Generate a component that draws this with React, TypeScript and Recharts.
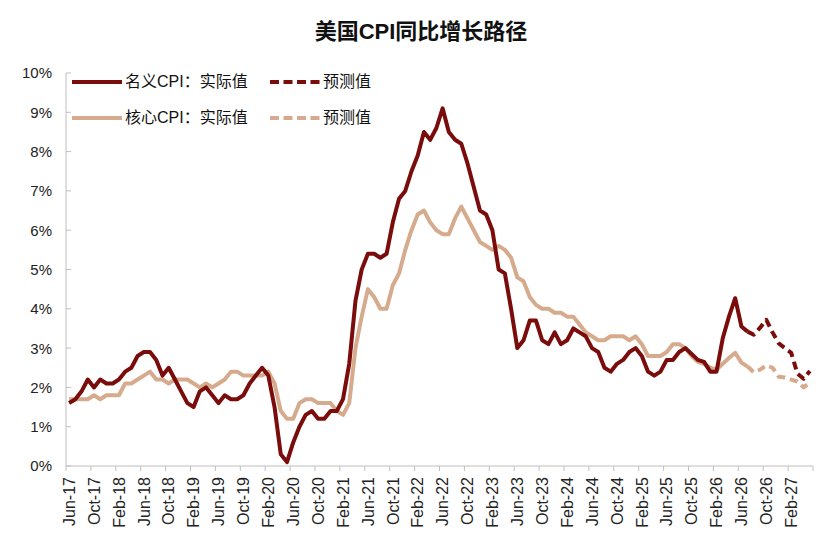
import React from "react";
import { LineChart, Line, XAxis, YAxis } from "recharts";

const MONTHS = ["Jan", "Feb", "Mar", "Apr", "May", "Jun", "Jul", "Aug", "Sep", "Oct", "Nov", "Dec"];
const START_MONTH = 5; // Jun
const START_YEAR = 17;
const N_MONTHS = 120; // Jun-17 .. May-27

const categories: string[] = [];
for (let i = 0; i < N_MONTHS; i++) {
  const m = (START_MONTH + i) % 12;
  const y = START_YEAR + Math.floor((START_MONTH + i) / 12);
  categories.push(`${MONTHS[m]}-${y}`);
}

// 名义CPI 实际值 (Jun-17 .. Jul-26)
const cpiActual = [
  1.6, 1.7, 1.9, 2.2, 2.0, 2.2, 2.1,
  2.1, 2.2, 2.4, 2.5, 2.8, 2.9, 2.9, 2.7, 2.3, 2.5, 2.2, 1.9,
  1.6, 1.5, 1.9, 2.0, 1.8, 1.6, 1.8, 1.7, 1.7, 1.8, 2.1, 2.3,
  2.5, 2.3, 1.5, 0.3, 0.1, 0.6, 1.0, 1.3, 1.4, 1.2, 1.2, 1.4,
  1.4, 1.7, 2.6, 4.2, 5.0, 5.4, 5.4, 5.3, 5.4, 6.2, 6.8, 7.0,
  7.5, 7.9, 8.5, 8.3, 8.6, 9.1, 8.5, 8.3, 8.2, 7.7, 7.1, 6.5,
  6.4, 6.0, 5.0, 4.9, 4.0, 3.0, 3.2, 3.7, 3.7, 3.2, 3.1, 3.4,
  3.1, 3.2, 3.5, 3.4, 3.3, 3.0, 2.9, 2.5, 2.4, 2.6, 2.7, 2.9,
  3.0, 2.8, 2.4, 2.3, 2.4, 2.7, 2.7, 2.9, 3.0, 2.85, 2.7, 2.65,
  2.4, 2.4, 3.25, 3.8, 4.27, 3.55, 3.42,
];
// 名义CPI 预测值 (Jul-26 .. May-27)
const cpiForecast = [3.42, 3.34, 3.52, 3.72, 3.4, 3.12, 3.0, 2.88, 2.35, 2.22, 2.42];

// 核心CPI 实际值 (Jun-17 .. Jul-26)
const coreActual = [
  1.7, 1.7, 1.7, 1.7, 1.8, 1.7, 1.8,
  1.8, 1.8, 2.1, 2.1, 2.2, 2.3, 2.4, 2.2, 2.2, 2.1, 2.2, 2.2,
  2.2, 2.1, 2.0, 2.1, 2.0, 2.1, 2.2, 2.4, 2.4, 2.3, 2.3, 2.3,
  2.3, 2.4, 2.1, 1.4, 1.2, 1.2, 1.6, 1.7, 1.7, 1.6, 1.6, 1.6,
  1.4, 1.3, 1.6, 3.0, 3.8, 4.5, 4.3, 4.0, 4.0, 4.6, 4.9, 5.5,
  6.0, 6.4, 6.5, 6.2, 6.0, 5.9, 5.9, 6.3, 6.6, 6.3, 6.0, 5.7,
  5.6, 5.5, 5.6, 5.5, 5.3, 4.8, 4.7, 4.3, 4.1, 4.0, 4.0, 3.9,
  3.9, 3.8, 3.8, 3.6, 3.4, 3.3, 3.2, 3.2, 3.3, 3.3, 3.3, 3.2,
  3.3, 3.1, 2.8, 2.8, 2.8, 2.9, 3.1, 3.1, 3.0, 2.8, 2.65, 2.6,
  2.5, 2.45, 2.6, 2.75, 2.88, 2.63, 2.53,
];
// 核心CPI 预测值 (Jul-26 .. May-27)
const coreForecast = [2.53, 2.38, 2.45, 2.56, 2.5, 2.27, 2.25, 2.2, 2.15, 2.0, 2.12];

const yTicks = [0, 1, 2, 3, 4, 5, 6, 7, 8, 9, 10];

const FORECAST_START = cpiActual.length - 1;

const data = categories.map((month, i) => ({
  month,
  cpi: i < cpiActual.length ? cpiActual[i] : null,
  cpiF: i >= FORECAST_START ? cpiForecast[i - FORECAST_START] : null,
  core: i < coreActual.length ? coreActual[i] : null,
  coreF: i >= FORECAST_START ? coreForecast[i - FORECAST_START] : null,
}));

const DARK = "#7A0C0C";
const LIGHT = "#D6AB8D";
const AXIS = "#BFBFBF";
const FONT = '"Liberation Sans", Arial, "Noto Sans CJK SC", sans-serif';

const W = 827;
const H = 544;
const PLOT_LEFT = 66;
const PLOT_RIGHT = 813;
const PLOT_TOP = 73;
const PLOT_BOTTOM = 466;
const BAND = (PLOT_RIGHT - PLOT_LEFT) / N_MONTHS;
const LAST_LABEL = categories[116];

const XTick = (props: any) => {
  const { x, y, payload } = props;
  const bx = x - BAND / 2;
  return (
    <g>
      <line x1={bx} y1={y} x2={bx} y2={y + 5} stroke={AXIS} strokeWidth={1} />
      {payload.value === LAST_LABEL && (
        <line x1={bx + 4 * BAND} y1={y} x2={bx + 4 * BAND} y2={y + 5} stroke={AXIS} strokeWidth={1} />
      )}
      <text
        x={x}
        y={y + 11}
        transform={`rotate(-90, ${x}, ${y + 11})`}
        textAnchor="end"
        dy="0.36em"
        fontSize={16}
        fontFamily={FONT}
        fill="#222"
      >
        {payload.value}
      </text>
    </g>
  );
};

const YTick = (props: any) => {
  const { x, y, payload } = props;
  const ax = x + 14;
  return (
    <g>
      <line x1={ax} y1={y} x2={ax + 5} y2={y} stroke={AXIS} strokeWidth={1} />
      <text x={x} y={y} dy="0.36em" textAnchor="end" fontSize={15} fontFamily={FONT} fill="#222">
        {`${payload.value}%`}
      </text>
    </g>
  );
};

const legendText: React.CSSProperties = {
  position: "absolute",
  fontSize: 16,
  fontFamily: FONT,
  color: "#111",
  lineHeight: "18px",
  whiteSpace: "nowrap",
};

const LegendLine = ({ x, y, color, dashed }: { x: number; y: number; color: string; dashed?: boolean }) => (
  <svg style={{ position: "absolute", left: x, top: y - 3, overflow: "visible" }} width={50} height={6}>
    <line x1={0} y1={3} x2={50} y2={3} stroke={color} strokeWidth={4} strokeDasharray={dashed ? "9 4.5" : undefined} />
  </svg>
);

export default function App() {
  return (
    <div style={{ position: "absolute", left: 0, top: 0, width: W, height: H, background: "#fff" }}>
      <div
        style={{
          position: "absolute",
          left: 421,
          top: 18,
          transform: "translateX(-50%)",
          fontSize: 22,
          fontWeight: "bold",
          fontFamily: FONT,
          color: "#111",
          whiteSpace: "nowrap",
          lineHeight: "27px",
        }}
      >
        美国CPI同比增长路径
      </div>
      <LineChart
        width={W}
        height={H}
        data={data}
        margin={{ top: PLOT_TOP, right: W - PLOT_RIGHT, bottom: 0, left: 0 }}
      >
        <XAxis
          dataKey="month"
          interval={3}
          height={H - PLOT_BOTTOM}
          padding={{ left: BAND / 2, right: BAND / 2 }}
          tickSize={0}
          tickMargin={0}
          tickLine={false}
          axisLine={{ stroke: AXIS }}
          tick={<XTick />}
        />
        <YAxis
          width={PLOT_LEFT}
          domain={[0, 10]}
          ticks={yTicks}
          interval={0}
          tickSize={0}
          tickMargin={14}
          tickLine={false}
          axisLine={{ stroke: AXIS }}
          tick={<YTick />}
        />
        <Line dataKey="core" stroke={LIGHT} strokeWidth={4} dot={false} isAnimationActive={false} strokeLinejoin="round" />
        <Line dataKey="coreF" stroke={LIGHT} strokeWidth={4} strokeDasharray="8 5" dot={false} isAnimationActive={false} strokeLinejoin="round" />
        <Line dataKey="cpi" stroke={DARK} strokeWidth={4} dot={false} isAnimationActive={false} strokeLinejoin="round" />
        <Line dataKey="cpiF" stroke={DARK} strokeWidth={4} strokeDasharray="8 5" dot={false} isAnimationActive={false} strokeLinejoin="round" />
      </LineChart>

      <LegendLine x={72} y={82} color={DARK} />
      <div style={{ ...legendText, left: 125, top: 73 }}>名义CPI：实际值</div>
      <LegendLine x={270} y={82} color={DARK} dashed />
      <div style={{ ...legendText, left: 323, top: 73 }}>预测值</div>

      <LegendLine x={72} y={118} color={LIGHT} />
      <div style={{ ...legendText, left: 125, top: 109 }}>核心CPI：实际值</div>
      <LegendLine x={270} y={118} color={LIGHT} dashed />
      <div style={{ ...legendText, left: 323, top: 109 }}>预测值</div>
    </div>
  );
}
